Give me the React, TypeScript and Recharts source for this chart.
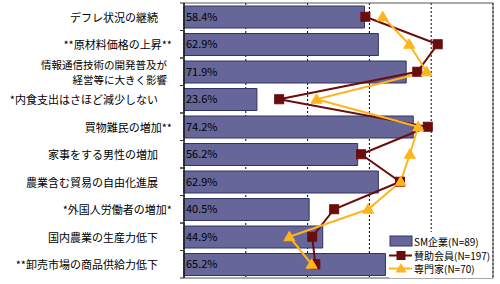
import React from 'react';
import {
  ComposedChart, Bar, Line, XAxis, YAxis, CartesianGrid, LabelList, ReferenceArea,
} from 'recharts';

const categories = [
  'デフレ状況の継続',
  '**原材料価格の上昇**',
  '情報通信技術の開発普及が\n経営等に大きく影響',
  '*内食支出はさほど減少しない',
  '買物難民の増加**',
  '家事をする男性の増加',
  '農業含む貿易の自由化進展',
  '*外国人労働者の増加*',
  '国内農業の生産力低下',
  '**卸売市場の商品供給力低下',
];
const smCompanies = [58.4, 62.9, 71.9, 23.6, 74.2, 56.2, 62.9, 40.5, 44.9, 65.2];
const supportMembers = [58.7, 82.1, 75.5, 30.8, 78.9, 57.3, 69.9, 48.6, 41.5, 42.5];
const experts = [64.3, 72.9, 78.5, 42.9, 75.8, 73.1, 70.1, 59.6, 34.1, 41.3];
const xTicks = [0, 20, 40, 60, 80, 100];
const seriesNames = ['SM企業(N=89)', '賛助会員(N=197)', '専門家(N=70)'];

const data = categories.map((name, i) => ({
  name,
  sm: smCompanies[i],
  member: supportMembers[i],
  expert: experts[i],
}));

const FONT = '"Noto Sans CJK JP", "Noto Sans", sans-serif';
const BAR_FILL = '#666699';
const BAR_STROKE = '#333366';
const RED = '#6B0D0D';
const ORANGE = '#FFB41E';
const HALF_ROW = (278 - 3) / categories.length / 2;

const CategoryTick = (props: any) => {
  const { x, y, payload } = props;
  const label: string = payload.value;
  const lines = label.split('\n');
  const multi = lines.length > 1;
  const endX = label.endsWith('*') ? x - 12 : x - 26;
  return (
    <g>
      <line x1={x - 4} x2={x} y1={y - HALF_ROW} y2={y - HALF_ROW} stroke="#333" />
      <line x1={x - 4} x2={x} y1={y + HALF_ROW} y2={y + HALF_ROW} stroke="#333" />
      {lines.map((t, i) => (
        <text
          key={i}
          x={multi ? x - 17 : endX}
          y={y + (i - (lines.length - 1) / 2) * 15}
          textAnchor="end"
          dominantBaseline="central"
          fontSize={multi ? 10.5 : 11}
          fontFamily={FONT}
          fill="#000"
        >
          {t}
        </text>
      ))}
    </g>
  );
};

const SquareDot = (props: any) => {
  const { cx, cy } = props;
  if (cx == null || cy == null) return null;
  return <rect key={`s${cx}-${cy}`} x={cx - 4.5} y={cy - 4.5} width={9} height={9} fill={RED} stroke={RED} />;
};

const TriangleDot = (props: any) => {
  const { cx, cy } = props;
  if (cx == null || cy == null) return null;
  return (
    <polygon
      key={`t${cx}-${cy}`}
      points={`${cx},${cy - 5.5} ${cx + 5.5},${cy + 4} ${cx - 5.5},${cy + 4}`}
      fill={ORANGE}
      stroke={ORANGE}
    />
  );
};

const LegendBox = () => (
  <svg
    width={103}
    height={46}
    style={{ position: 'absolute', left: 389, top: 232, overflow: 'visible' }}
  >
    <rect x={0} y={0} width={103} height={46} fill="#fff" />
    <rect x={1} y={4} width={22} height={10} fill={BAR_FILL} stroke={BAR_STROKE} />
    <line x1={0} x2={23} y1={23.5} y2={23.5} stroke={RED} strokeWidth={2} />
    <rect x={7.5} y={19} width={9} height={9} fill={RED} />
    <line x1={0} x2={23} y1={36.5} y2={36.5} stroke={ORANGE} strokeWidth={2} />
    <polygon points="12,31 17.5,40.5 6.5,40.5" fill={ORANGE} />
    {seriesNames.map((n, i) => (
      <text
        key={n}
        x={25}
        y={9.5 + i * 13.5}
        dominantBaseline="central"
        fontSize={10}
        fontFamily={FONT}
        fill="#000"
      >
        {n}
      </text>
    ))}
  </svg>
);

export default function App() {
  return (
    <div style={{ position: 'absolute', left: 0, top: 0, width: 500, height: 284, background: '#fff' }}>
      <ComposedChart
        width={500}
        height={284}
        data={data}
        layout="vertical"
        margin={{ top: 3, right: 7, bottom: 6, left: 0 }}
        barCategoryGap={3}
      >
        <CartesianGrid horizontal={false} stroke="#000" strokeDasharray="2 2" />
        <XAxis type="number" domain={[0, 100]} ticks={xTicks} hide />
        <YAxis
          type="category"
          dataKey="name"
          width={184}
          tick={<CategoryTick />}
          tickLine={false}
          tickSize={0}
          tickMargin={0}
          axisLine={{ stroke: '#000' }}
          interval={0}
        />
        <ReferenceArea x1={0} x2={100} fill="none" stroke="#555" strokeOpacity={1} fillOpacity={0} />
        <Bar dataKey="sm" fill={BAR_FILL} stroke={BAR_STROKE} isAnimationActive={false}>
          <LabelList
            dataKey="sm"
            position="insideLeft"
            offset={2}
            formatter={(v: any) => `${Number(v).toFixed(1)}%`}
            style={{ fontSize: 11, fontFamily: FONT, fill: '#000' }}
          />
        </Bar>
        <Line
          dataKey="member"
          type="linear"
          stroke={RED}
          strokeWidth={2}
          dot={<SquareDot />}
          activeDot={false}
          isAnimationActive={false}
        />
        <Line
          dataKey="expert"
          type="linear"
          stroke={ORANGE}
          strokeWidth={2}
          dot={<TriangleDot />}
          activeDot={false}
          isAnimationActive={false}
        />
      </ComposedChart>
      <LegendBox />
    </div>
  );
}
